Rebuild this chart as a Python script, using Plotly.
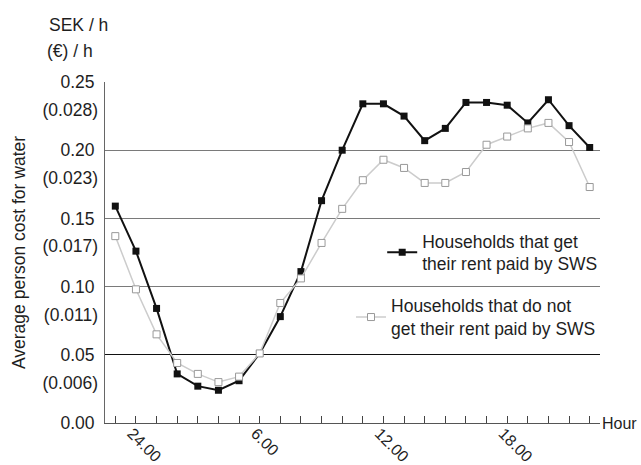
import plotly.graph_objects as go

# ---- data ----
hours = [23, 24, 1, 2, 3, 4, 5, 6, 7, 8, 9, 10, 11, 12, 13, 14, 15, 16, 17, 18, 19, 20, 21, 22]
tick_labels = ["", "24.00", "", "", "", "", "", "6.00", "", "", "", "", "", "12.00",
               "", "", "", "", "", "18.00", "", "", "", ""]
rent_paid = [0.159, 0.126, 0.084, 0.036, 0.027, 0.024, 0.031, 0.051, 0.078, 0.111,
             0.163, 0.200, 0.234, 0.234, 0.225, 0.207, 0.216, 0.235, 0.235, 0.233,
             0.220, 0.237, 0.218, 0.202]
rent_not_paid = [0.137, 0.098, 0.065, 0.044, 0.036, 0.030, 0.034, 0.051, 0.088, 0.106,
                 0.132, 0.157, 0.178, 0.193, 0.187, 0.176, 0.176, 0.184, 0.204, 0.210,
                 0.216, 0.220, 0.206, 0.173]
sek_ticks = [0.0, 0.05, 0.10, 0.15, 0.20, 0.25]
sek_labels = ["0.00", "0.05", "0.10", "0.15", "0.20", "0.25"]
eur_ticks = [0.05, 0.10, 0.15, 0.20, 0.25]
eur_labels = ["(0.006)", "(0.011)", "(0.017)", "(0.023)", "(0.028)"]
eur_offset = 0.0205

idx = list(range(len(hours)))
FONT = "Liberation Sans, Arial, sans-serif"
TXT = "#1e1e1e"
FS = 17.5

fig = go.Figure()
fig.add_trace(go.Scatter(
    x=idx, y=rent_paid, mode="lines+markers",
    name="Households that get<br>their rent paid by SWS",
    line=dict(color="#111111", width=2),
    marker=dict(symbol="square", size=7, color="#111111"),
    legend="legend",
))
fig.add_trace(go.Scatter(
    x=idx, y=rent_not_paid, mode="lines+markers",
    name="Households that do not<br>get their rent paid by SWS",
    line=dict(color="#cccccc", width=1.5),
    marker=dict(symbol="square", size=7, color="white", line=dict(color="#999999", width=1)),
    legend="legend2",
))
# invisible traces to activate overlay axes
fig.add_trace(go.Scatter(x=[idx[0]], y=[0], yaxis="y2", mode="markers",
                         marker=dict(opacity=0), showlegend=False, hoverinfo="skip"))
fig.add_trace(go.Scatter(x=[idx[0]], y=[0], yaxis="y3", mode="markers",
                         marker=dict(opacity=0), showlegend=False, hoverinfo="skip"))

fig.update_layout(
    width=641, height=465,
    margin=dict(l=105, r=41, t=82, b=42, autoexpand=False),
    paper_bgcolor="white", plot_bgcolor="white",
    font=dict(family=FONT, size=FS, color=TXT),
    xaxis=dict(
        range=[-0.5, 23.5], tickmode="array", tickvals=idx, ticktext=tick_labels,
        tickangle=45, ticks="inside", ticklen=7, tickcolor="#444444",
        showline=True, linecolor="#555555", linewidth=1, showgrid=False, zeroline=False,
        tickfont=dict(size=16, color=TXT), automargin=False,
        ticklabelstandoff=-6, ticklabelshift=-4,
    ),
    yaxis=dict(
        range=[0, 0.25], tickmode="array", tickvals=sek_ticks, ticktext=sek_labels,
        showgrid=True, gridcolor="#7a7a7a", gridwidth=1, zeroline=False,
        showline=True, linecolor="#666666", linewidth=1, ticks="", ticklabelstandoff=6,
        title=dict(text="Average person cost for water", font=dict(size=FS, color=TXT), standoff=30),
        tickfont=dict(size=FS, color=TXT), automargin=False,
    ),
    yaxis2=dict(
        range=[0, 0.25], overlaying="y", tickmode="array", tickvals=[0.05],
        showticklabels=False, showgrid=True, gridcolor="#111111", gridwidth=1,
        zeroline=False, showline=False, automargin=False,
    ),
    yaxis3=dict(
        range=[0, 0.25], overlaying="y", side="left", tickmode="array",
        tickvals=[v - eur_offset for v in eur_ticks], ticktext=eur_labels,
        showgrid=False, zeroline=False, showline=False, ticks="", ticklabelstandoff=6,
        tickfont=dict(size=FS, color=TXT), automargin=False,
    ),
    legend=dict(x=0.56, y=0.50, xanchor="left", yanchor="middle", bgcolor="rgba(0,0,0,0)",
                font=dict(size=FS, color=TXT), valign="middle"),
    legend2=dict(x=0.497, y=0.31, xanchor="left", yanchor="middle", bgcolor="rgba(0,0,0,0)",
                 font=dict(size=FS, color=TXT), valign="middle"),
    annotations=[
        dict(text="SEK / h", xref="paper", yref="paper", x=-0.118, y=1.168,
             xanchor="left", yanchor="middle", showarrow=False, font=dict(size=FS, color=TXT)),
        dict(text="(€) / h", xref="paper", yref="paper", x=-0.121, y=1.09,
             xanchor="left", yanchor="middle", showarrow=False, font=dict(size=FS, color=TXT)),
        dict(text="Hour", xref="paper", yref="y", x=1.0, y=0,
             xanchor="left", yanchor="middle", showarrow=False, font=dict(size=16, color=TXT)),
    ],
)

fig.write_html(
    "out.html",
    config={"displayModeBar": False},
    post_script="document.body.style.margin='0';document.body.style.overflow='hidden';",
)
